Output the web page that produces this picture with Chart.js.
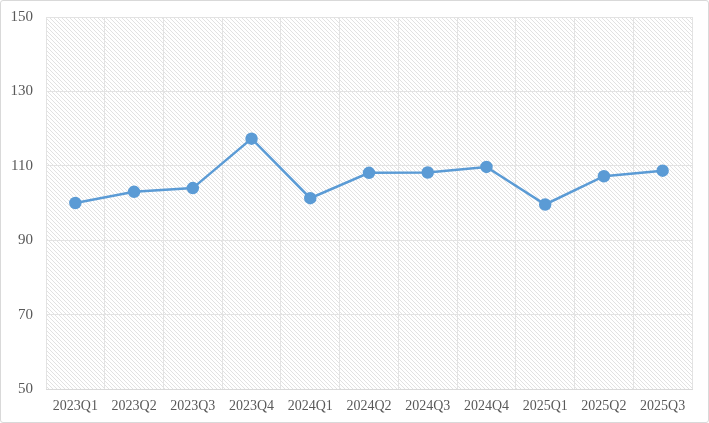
<!DOCTYPE html>
<html>
<head>
<meta charset="utf-8">
<script src="https://cdn.jsdelivr.net/npm/chart.js@4/dist/chart.umd.min.js"></script>
<style>
    html, body { margin: 0; padding: 0; background: #fff; }
    #wrap { width: 707px; height: 421px; border: 1px solid #d9d9d9; border-radius: 3px; }
    canvas { display: block; }
</style>
</head>
<body>
<div id="wrap"><canvas id="lineChart" width="707" height="421"></canvas></div>
<script>
let quarters = ["2023Q1", "2023Q2", "2023Q3", "2023Q4", "2024Q1", "2024Q2", "2024Q3", "2024Q4", "2025Q1", "2025Q2", "2025Q3"];
let indexValues = [100.0, 103.0, 104.0, 117.3, 101.3, 108.1, 108.2, 109.7, 99.6, 107.2, 108.7];
let yTicks = [50, 70, 90, 110, 130, 150];

function makeHatch(ctx) {
    let c = document.createElement("canvas");
    c.width = 4;
    c.height = 4;
    let g = c.getContext("2d");
    g.fillStyle = "#ffffff";
    g.fillRect(0, 0, 4, 4);
    g.strokeStyle = "#e2e2e2";
    g.lineWidth = 1;
    g.beginPath();
    g.moveTo(-1, -1);
    g.lineTo(5, 5);
    g.moveTo(-1, 3);
    g.lineTo(1, 5);
    g.moveTo(3, -1);
    g.lineTo(5, 1);
    g.stroke();
    return ctx.createPattern(c, "repeat");
}

const hatchBackground = {
    id: "hatchBackground",
    beforeDraw(chart) {
        let a = chart.chartArea;
        let ctx = chart.ctx;
        ctx.save();
        ctx.fillStyle = makeHatch(ctx);
        ctx.fillRect(a.left, a.top, a.right - a.left, a.bottom - a.top);
        ctx.restore();
    }
};

window.onload = function () {
    let ctx = document.getElementById("lineChart").getContext("2d");
    window.myLine = new Chart(ctx, {
        type: "line",
        data: {
            labels: quarters,
            datasets: [{
                data: indexValues,
                borderColor: "#5b9bd5",
                backgroundColor: "#5b9bd5",
                borderWidth: 2.5,
                pointRadius: 5,
                pointHoverRadius: 5,
                tension: 0
            }]
        },
        options: {
            responsive: false,
            animation: false,
            layout: { padding: { left: 10, right: 16, top: 16, bottom: 1 } },
            plugins: {
                legend: { display: false },
                tooltip: { enabled: false }
            },
            scales: {
                x: {
                    offset: true,
                    afterFit(axis) {
                        axis.height = 32;
                    },
                    grid: { offset: true, color: "#e3e3e3", drawTicks: false },
                    border: { color: "#d9d9d9" },
                    ticks: {
                        color: "#595959",
                        padding: 9,
                        maxRotation: 0,
                        font: { family: "Liberation Serif", size: 14 }
                    }
                },
                y: {
                    min: 50,
                    max: 150,
                    afterBuildTicks(axis) {
                        axis.ticks = yTicks.map(v => ({ value: v }));
                    },
                    afterFit(axis) {
                        axis.width = 35;
                        axis.paddingTop = 0;
                        axis.paddingBottom = 0;
                    },
                    grid: { color: "#e3e3e3", drawTicks: false },
                    border: { display: false },
                    ticks: {
                        color: "#595959",
                        padding: 13,
                        font: { family: "Liberation Serif", size: 15 }
                    }
                }
            }
        },
        plugins: [hatchBackground]
    });
};
</script>
</body>
</html>
